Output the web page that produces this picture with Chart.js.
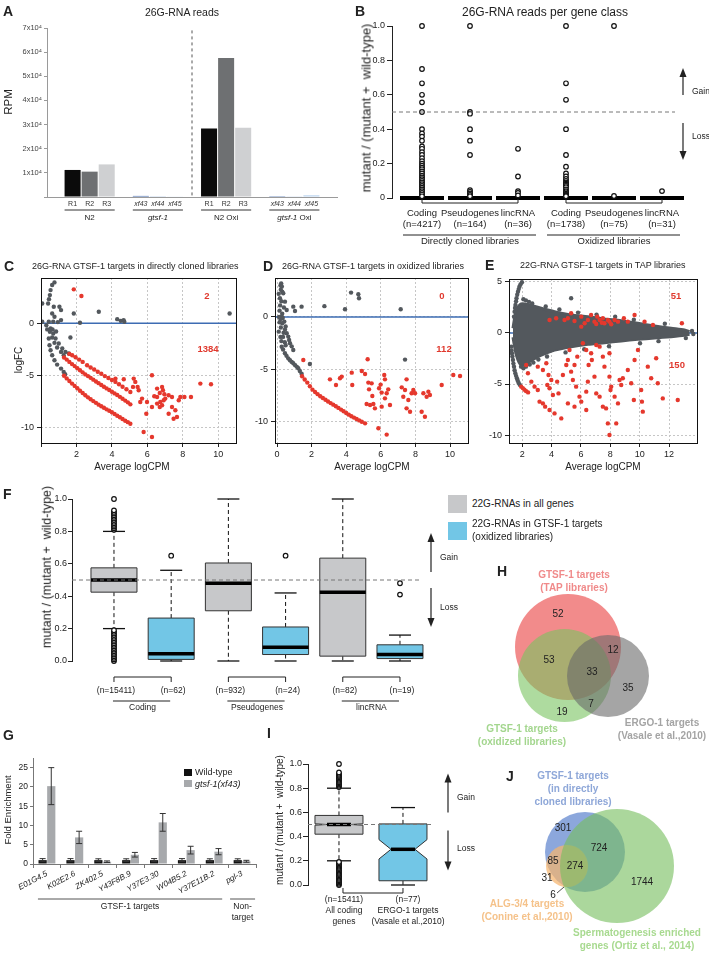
<!DOCTYPE html>
<html lang="en">
<head>
<meta charset="UTF-8" />
<meta name="viewport" content="width=device-width, initial-scale=1.0" />
<title>GTSF-1 small RNA figure</title>
<script src="https://cdn.jsdelivr.net/npm/chart.js"></script>
<style>
  body { margin: 0; width: 709px; height: 954px; position: relative; overflow: hidden; background: #fff;
         font-family: "Liberation Sans", Arial, Helvetica, sans-serif; color: #222; }
  canvas { position: absolute; }
  .t { position: absolute; white-space: nowrap; line-height: 1; transform: translate(-50%, -50%); }
  .sq { position: absolute; }
</style>
</head>
<body>
<script>
// ---------------- data ----------------
// A: 26G-RNA reads (RPM)
const aReplicates = ['R1', 'R2', 'R3'];
const aMutants = ['xf43', 'xf44', 'xf45'];
const aN2 = [11200, 10500, 13500];
const aGtsf1 = [450, 300, 250];
const aN2Oxi = [28400, 57600, 28700];
const aGtsf1Oxi = [350, 150, 700];

// B: 26G-RNA reads per gene class
const bClasses = ['Coding', 'Pseudogenes', 'lincRNA', 'Coding', 'Pseudogenes', 'lincRNA'];
const bCounts = [4217, 164, 36, 1738, 75, 31];
const bLibraries = ['Directly cloned libraries', 'Oxidized libraries'];
const bMedians = [0, 0, 0, 0, 0, 0];
const bOutliers = [
  [1.0, 0.75, 0.667, 0.6, 0.556, 0.5, 0.4, 0.375, 0.357, 0.333, 0.3, 0.286, 0.267, 0.25, 0.231, 0.214, 0.2, 0.188,
   0.176, 0.167, 0.154, 0.143, 0.13, 0.12, 0.11, 0.1, 0.09, 0.08, 0.07, 0.06, 0.05, 0.04, 0.03, 0.02, 0.01],
  [1.0, 0.5, 0.49, 0.4, 0.333, 0.25, 0.045, 0.036, 0.027, 0.018, 0.01],
  [0.286, 0.125, 0.04, 0.03, 0.015],
  [1.0, 0.667, 0.571, 0.4, 0.25, 0.182, 0.143, 0.125, 0.111, 0.1, 0.091, 0.083, 0.077, 0.071, 0.063, 0.05, 0.04,
   0.033, 0.025, 0.02, 0.015, 0.01],
  [1.0, 0.012],
  [0.04]
];

// C: 26G-RNA GTSF-1 targets, directly cloned (average logCPM, logFC)
const cCounts = [2, 1384];
const cGray = [[0.76,3.91],[0.63,3.66],[0.54,3.17],[0.5,2.69],[0.45,2.3],[0.4,1.89],[0.07,1.89],[0.72,1.57],[1.04,1.57],
  [1.13,1.25],[0.63,0.93],[0.76,0.61],[1.13,0.29],[1.85,0.93],[2.2,0.03],[3.26,1.09],[4.3,0.38],[4.5,0.22],[4.7,0.13],
  [4.66,0.29],[10.64,0.93],[0.07,0.13],[0.44,0.13],[0.69,0.13],[1.66,-1.38],[0.54,-0.51],[0.69,-0.99],[0.82,-1.47],
  [1.0,-1.96],[1.2,-2.44],[1.38,-2.76],[1.57,-2.92],[0.5,-0.83],[0.63,-1.38],[0.76,-1.89],[0.91,-2.34],[1.13,-2.76],
  [1.28,-3.08],[0.44,-1.47],[0.48,-2.12],[0.54,-2.6],[0.63,-3.08],[0.76,-3.56],[0.91,-3.98],[1.13,-4.36],[1.28,-4.68],
  [1.36,-4.9],[0.35,-0.6],[0.65,-0.6],[0.85,-0.8],[0.3,-0.2],[0.95,0.1]];
const cRedUpper = [[1.85,3.24],[2.28,2.6],[1.6,-2.95],[1.76,-3.08],[1.95,-3.28],[2.15,-3.5],[2.35,-3.72],[2.6,-4.04],
  [2.8,-4.25],[3.0,-4.45],[3.2,-4.66],[3.4,-4.86],[3.6,-5.08],[3.8,-5.27],[4.0,-5.45],[4.2,-5.64],[4.4,-5.86],[4.6,-6.1],
  [4.82,-6.35],[5.04,-6.6]];
const cRedMiddle = [[1.3,-3.3],[1.45,-3.5],[1.6,-3.72],[1.75,-3.93],[1.9,-4.12],[2.05,-4.32],[2.2,-4.52],[2.35,-4.72],
  [2.5,-4.92],[2.65,-5.08],[2.8,-5.25],[2.95,-5.42],[3.1,-5.6],[3.25,-5.76],[3.4,-5.93],[3.55,-6.1],[3.7,-6.26],
  [3.85,-6.42],[4.0,-6.58],[4.15,-6.74],[4.3,-6.9],[4.45,-7.07],[4.6,-7.25],[4.75,-7.43],[4.9,-7.6],[5.04,-7.79]];
const cRedLower = [[1.3,-5.05],[1.45,-5.3],[1.6,-5.55],[1.75,-5.8],[1.9,-6.02],[2.05,-6.25],[2.2,-6.48],[2.35,-6.7],
  [2.5,-6.92],[2.65,-7.12],[2.8,-7.3],[2.95,-7.48],[3.1,-7.65],[3.25,-7.82],[3.4,-7.98],[3.55,-8.12],[3.7,-8.27],
  [3.85,-8.4],[4.0,-8.55],[4.15,-8.72],[4.3,-8.88],[4.45,-9.03],[4.6,-9.2],[4.75,-9.36],[4.9,-9.5],[5.04,-9.65]];
const cRedScatter = [[4.2,-5.32],[4.67,-5.38],[5.23,-5.32],[5.19,-6.12],[5.32,-5.64],[5.45,-6.12],[5.51,-6.44],
  [5.7,-7.24],[5.6,-7.56],[5.98,-7.56],[5.94,-8.69],[5.79,-10.45],[6.26,-5.0],[6.26,-10.93],[6.55,-7.08],[6.55,-6.28],
  [6.7,-6.7],[6.83,-6.12],[6.88,-6.44],[6.96,-6.83],[7.01,-7.24],[6.73,-7.56],[6.7,-8.04],[6.55,-7.72],[6.92,-7.4],
  [6.83,-7.88],[7.2,-6.92],[7.39,-7.08],[7.39,-8.04],[7.48,-9.17],[7.58,-8.36],[7.67,-9.0],[7.77,-7.4],[7.86,-7.08],
  [8.09,-7.08],[8.46,-7.08],[8.99,-5.8],[9.59,-5.87],[6.26,-8.04],[6.39,-7.02],[7.2,-8.69]];

// D: 26G-RNA GTSF-1 targets, oxidized
const dCounts = [0, 112];
const dGray = [[0.2,3.0],[0.24,3.2],[0.28,2.9],[0.22,2.6],[0.3,2.4],[0.36,2.26],[0.1,2.2],[0.17,1.79],[0.25,1.5],
  [0.46,1.46],[0.18,1.1],[0.4,0.9],[0.15,0.6],[0.56,0.67],[0.3,0.3],[0.27,0.03],[0.12,0.0],[0.33,-0.1],[0.2,-0.2],
  [0.15,-0.5],[0.42,-0.44],[0.3,-0.6],[0.5,-0.9],[0.22,-1.0],[0.46,-1.2],[0.1,-1.4],[0.38,-1.5],[0.56,-1.55],
  [0.65,-1.87],[0.2,-1.9],[0.35,-1.9],[0.7,-2.2],[0.25,-2.3],[0.45,-2.4],[0.75,-2.5],[0.5,-2.7],[0.85,-2.8],
  [0.94,-3.14],[0.27,-2.83],[0.35,-3.1],[0.46,-3.46],[0.55,-3.7],[0.65,-3.94],[0.75,-4.12],[0.85,-4.28],[0.94,-4.41],
  [1.05,-4.6],[1.15,-4.75],[1.23,-4.89],[1.32,-5.15],[1.42,-5.4],[0.94,0.98],[1.04,0.57],[1.42,0.98],[2.74,1.03],
  [3.93,0.73],[4.28,2.32],[4.7,2.16],[4.74,1.78],[7.15,0.73],[7.4,-4.06],[1.9,-4.48]];
const dRedCurve = [[1.45,-5.65],[1.6,-5.95],[1.75,-6.25],[1.9,-6.6],[2.05,-6.92],[2.2,-7.15],[2.35,-7.35],[2.5,-7.55],
  [2.65,-7.72],[2.8,-7.88],[2.95,-8.05],[3.1,-8.2],[3.25,-8.35],[3.4,-8.5],[3.55,-8.66],[3.7,-8.82],[3.85,-8.98],
  [4.0,-9.15],[4.15,-9.3],[4.3,-9.45],[4.45,-9.58],[4.6,-9.72],[4.75,-9.85],[4.9,-9.98],[5.09,-10.13]];
const dRedScatter = [[1.52,-4.1],[3.06,-5.94],[3.41,-6.48],[3.64,-5.84],[3.74,-5.68],[4.32,-5.3],[4.35,-6.48],
  [4.9,-5.14],[5.09,-5.43],[5.24,-4.03],[5.28,-6.25],[5.32,-6.89],[5.47,-6.32],[5.51,-7.52],[5.18,-8.29],[5.38,-8.38],
  [5.57,-8.29],[5.66,-8.7],[5.86,-10.6],[5.9,-6.79],[5.99,-6.44],[6.05,-7.2],[6.2,-5.52],[6.24,-5.94],[6.24,-7.75],
  [6.34,-7.27],[6.43,-6.89],[6.53,-8.38],[6.34,-11.2],[7.21,-6.7],[7.3,-7.59],[7.4,-6.95],[7.49,-5.94],[7.59,-7.9],
  [7.49,-8.7],[7.69,-9.02],[7.78,-7.27],[7.88,-6.95],[7.98,-7.27],[8.36,-9.02],[8.55,-9.5],[8.46,-7.27],[8.65,-7.59],
  [8.75,-7.11],[8.84,-7.43],[9.52,-6.48],[10.19,-5.52],[10.58,-5.62],[6.05,-8.54]];

// E: 22G-RNA GTSF-1 targets, TAP libraries
const eCounts = [51, 150];
const eCloudUpper = [[1.37,0.46],[1.6,2.25],[1.93,2.84],[2.5,2.75],[3.06,2.52],[4.2,2.09],[5.33,1.76],[6.47,1.6],
  [7.6,1.37],[8.74,1.21],[9.87,0.95],[11.01,0.69],[12.14,0.46],[13.05,0.29],[13.39,0.13]];
const eCloudLower = [[1.37,-0.42],[1.6,-2.16],[1.93,-3.14],[2.5,-2.81],[3.06,-2.32],[4.2,-1.67],[5.33,-1.34],
  [6.47,-1.11],[7.6,-0.95],[8.74,-0.78],[9.87,-0.62],[11.01,-0.49],[12.14,-0.36],[13.05,-0.23],[13.39,-0.13]];
const eGray = [[1.44,1.6],[1.48,2.09],[1.51,2.45],[1.54,2.75],[1.58,3.1],[1.61,3.4],[1.66,3.75],[1.71,4.05],
  [1.76,4.3],[1.81,4.54],[1.88,4.75],[1.98,4.97],[2.08,3.3],[2.25,3.2],[2.46,3.05],[2.68,2.9],[5.33,3.4],[1.25,-1.34],
  [1.27,-1.7],[1.3,-1.99],[1.33,-2.3],[1.37,-2.65],[1.4,-3.0],[1.44,-3.3],[1.48,-3.65],[1.53,-3.95],[1.58,-4.2],
  [1.64,-4.44],[1.69,-4.65],[1.75,-4.87],[1.83,-5.07],[1.92,-3.3],[2.08,-3.45],[2.25,-3.3],[2.51,-3.1],[2.76,-2.9],
  [3.1,-2.6],[3.6,2.6],[4.53,2.3],[5.8,2.0],[7.06,1.8],[8.33,1.6],[9.6,1.3],[11.71,0.9],[3.69,-2.3],[4.95,-1.9],
  [6.22,-1.6],[7.91,-1.3],[10.02,-1.0],[11.28,-0.8],[13.14,-0.5],[13.56,0.2],[13.65,-0.1]];
const eRedUp = [[4.88,1.27],[5.11,1.44],[5.33,1.93],[5.56,1.18],[6.02,1.6],[6.47,1.27],[6.69,1.76],[6.92,1.11],
  [7.11,1.6],[7.27,1.27],[7.42,1.01],[7.49,1.44],[7.6,0.95],[7.83,1.27],[7.94,1.11],[8.06,0.85],[8.29,1.27],
  [8.52,1.11],[8.92,1.44],[9.19,1.11],[9.65,1.76],[10.33,1.11],[10.9,0.78],[12.87,0.95],[6.02,0.62],[6.25,0.95],
  [7.04,0.88],[4.31,1.44],[3.86,1.27]];
const eRedDown = [[1.93,-5.26],[2.04,-5.4],[2.15,-5.55],[2.27,-5.7],[2.4,-5.82],[2.27,-3.14],[2.39,-3.95],
  [2.62,-4.77],[2.84,-5.26],[3.06,-5.59],[3.18,-6.73],[3.41,-6.9],[3.56,-7.22],[3.86,-7.55],[4.2,-7.88],[4.66,-8.37],
  [3.06,-3.3],[3.41,-3.63],[3.64,-2.97],[3.79,-4.12],[3.98,-4.61],[3.71,-5.1],[3.86,-5.42],[4.09,-6.08],[4.38,-4.77],
  [4.47,-5.92],[4.77,-4.12],[5.0,-3.14],[5.11,-2.65],[5.22,-1.67],[5.33,-3.79],[5.56,-3.14],[5.75,-2.32],[5.45,-4.61],
  [5.67,-5.26],[5.9,-6.24],[6.02,-6.73],[6.36,-7.55],[5.56,-7.22],[5.11,-6.9],[6.47,-4.77],[6.52,-3.14],[6.69,-1.99],
  [6.74,-2.65],[6.92,-4.28],[7.27,-1.34],[7.49,-2.32],[7.6,-3.3],[7.94,-4.28],[8.06,-5.26],[8.29,-6.24],[8.52,-6.9],
  [7.94,-1.99],[8.01,-5.59],[7.83,-8.86],[7.94,-10.0],[8.4,-8.86],[8.63,-4.61],[8.74,-5.1],[8.85,-4.44],
  [9.19,-3.63],[9.42,-4.93],[9.6,-6.57],[9.65,-2.65],[9.88,-1.67],[10.1,-5.59],[10.15,-6.73],[10.21,-7.71],
  [10.55,-3.3],[10.78,-4.44],[11.12,-2.48],[11.23,-4.93],[11.57,-6.41],[12.59,-6.57],[7.04,-5.92],[7.27,-6.24],
  [7.49,-7.22],[7.71,-7.39],[6.36,-5.75],[6.13,-1.01],[6.36,-1.67],[7.04,-1.18]];

// F: 22G-RNAs per gene class
const fGroups = ['Coding', 'Pseudogenes', 'lincRNA'];
const fCounts = [15411, 62, 932, 24, 82, 19];
const fLow = [0.2, 0.0, 0.0, 0.0, 0.0, 0.0];
const fQ1 = [0.425, 0.01, 0.31, 0.04, 0.03, 0.015];
const fMedian = [0.5, 0.045, 0.48, 0.085, 0.425, 0.04];
const fQ3 = [0.575, 0.265, 0.605, 0.21, 0.635, 0.1];
const fHigh = [0.8, 0.56, 1.0, 0.42, 1.0, 0.16];
const allCodingOutliers = [0, 0.01, 0.02, 0.03, 0.04, 0.05, 0.06, 0.07, 0.08, 0.09, 0.1, 0.11, 0.12, 0.13, 0.14,
  0.15, 0.16, 0.17, 0.18, 0.19, 0.81, 0.82, 0.83, 0.84, 0.85, 0.86, 0.87, 0.88, 0.89, 0.9, 0.91, 0.92, 0.93, 1.0];
const fOutliers = [allCodingOutliers, [0.65], [], [0.65], [], [0.41, 0.48]];

// G: RT-qPCR fold enrichment
const gGenes = ['E01G4.5', 'K02E2.6', 'ZK402.5', 'Y43F8B.9', 'Y37E3.30', 'W04B5.2', 'Y37E11B.2', 'pgl-3'];
const gWildType = [1, 1, 1, 1, 1, 1, 1, 1];
const gWildTypeSd = [0.4, 0.4, 0.35, 0.35, 0.4, 0.4, 0.35, 0.35];
const gMutant = [20.2, 6.9, 0.6, 2.4, 10.8, 3.6, 3.2, 0.7];
const gMutantSd = [4.8, 1.6, 0.2, 0.6, 2.3, 1.0, 0.8, 0.25];

// H: Venn of GTSF-1 / ERGO-1 targets
const hCounts = [52, 53, 12, 33, 35, 19, 7];

// I: ERGO-1 targets
const iCounts = [15411, 77];
const iGroups = [['All coding', 'genes'], ['ERGO-1 targets', '(Vasale et al.,2010)']];
const iLow = [0.2, 0.0];
const iQ1 = [0.42, 0.035];
const iMedian = [0.5, 0.295];
const iQ3 = [0.575, 0.505];
const iHigh = [0.8, 0.64];
const iNotchLo = [0.494, 0.215];
const iNotchHi = [0.506, 0.375];
const iOutliers = [allCodingOutliers, []];

// J: Venn with ALG-3/4 targets and spermatogenesis genes
const jCounts = [301, 724, 85, 274, 31, 6, 1744];

// ---------------- helpers ----------------
const FONT = '"Liberation Sans", Arial, Helvetica, sans-serif';
Chart.defaults.font.family = FONT;
Chart.defaults.color = '#222';

const pairs = a => a.map(p => ({x: p[0], y: p[1]}));
const pointsOf = groups => groups.flatMap((vals, i) => vals.map(v => ({x: i, y: v})));

function canvasAt(L, T, W, H) {
  const cv = document.createElement('canvas');
  cv.width = W; cv.height = H;
  cv.style.left = L + 'px'; cv.style.top = T + 'px';
  cv.style.width = W + 'px'; cv.style.height = H + 'px';
  document.body.appendChild(cv);
  return cv;
}

// box = canvas rect, area = plot rect, both in page pixels
function chartAt(box, area, cfg) {
  const [L, T, W, H] = box, [x0, y0, x1, y1] = area;
  const o = cfg.options = cfg.options || {};
  o.responsive = false; o.animation = false; o.events = [];
  o.layout = {autoPadding: false, padding: {left: 0, top: y0 - T, right: L + W - x1, bottom: 0}};
  o.plugins = {legend: {display: false}, tooltip: {enabled: false}};
  o.scales.x.afterFit = s => { s.height = T + H - y1; s.paddingLeft = s.paddingRight = 0; };
  o.scales.y.afterFit = s => { s.width = x0 - L; s.paddingTop = s.paddingBottom = 0; };
  return new Chart(canvasAt(L, T, W, H), cfg);
}

function seg(ctx, x1, y1, x2, y2, color, width, dash) {
  ctx.save();
  ctx.strokeStyle = color || '#222'; ctx.lineWidth = width || 1; ctx.setLineDash(dash || []);
  ctx.beginPath(); ctx.moveTo(x1, y1); ctx.lineTo(x2, y2); ctx.stroke();
  ctx.restore();
}

function label(ctx, s, x, y, size, o) {
  o = o || {};
  ctx.save();
  ctx.font = (o.italic ? 'italic ' : '') + (o.bold ? 'bold ' : '') + size + 'px ' + FONT;
  ctx.fillStyle = o.color || '#222';
  ctx.textAlign = o.align || 'center';
  ctx.textBaseline = 'middle';
  ctx.fillText(s, x, y);
  ctx.restore();
}

function mixed(ctx, parts, cx, y, size) {
  ctx.save();
  ctx.textBaseline = 'middle'; ctx.textAlign = 'left'; ctx.fillStyle = '#222';
  const fonts = parts.map(p => (p[1] ? 'italic ' : '') + size + 'px ' + FONT);
  let w = 0;
  parts.forEach((p, k) => { ctx.font = fonts[k]; w += ctx.measureText(p[0]).width; });
  let xx = cx - w / 2;
  parts.forEach((p, k) => { ctx.font = fonts[k]; ctx.fillText(p[0], xx, y); xx += ctx.measureText(p[0]).width; });
  ctx.restore();
}

function arrow(ctx, x, yTail, yHead) {
  const d = Math.sign(yHead - yTail);
  seg(ctx, x, yTail, x, yHead - d * 6, '#222', 1.2);
  ctx.save();
  ctx.fillStyle = '#222';
  ctx.beginPath();
  ctx.moveTo(x, yHead); ctx.lineTo(x - 3.5, yHead - d * 9); ctx.lineTo(x + 3.5, yHead - d * 9);
  ctx.closePath(); ctx.fill();
  ctx.restore();
}

function gainLoss(ctx, x, y5, up, down, gy, ly, tx) {
  arrow(ctx, x, y5 + up[0], y5 + up[1]);
  arrow(ctx, x, y5 + down[0], y5 + down[1]);
  label(ctx, 'Gain', tx, y5 + gy, 8.5, {align: 'left'});
  label(ctx, 'Loss', tx, y5 + ly, 8.5, {align: 'left'});
}

function drawBoxes(chart, st, o) {
  const {ctx, scales: {x, y}} = chart;
  const py = v => y.getPixelForValue(v);
  st.med.forEach((m, i) => {
    const cx = x.getPixelForValue(i), hw = o.half;
    const q1 = py(st.q1[i]), q3 = py(st.q3[i]), md = py(m);
    if (st.hi[i] > st.q3[i]) {
      seg(ctx, cx, q3, cx, py(st.hi[i]), '#111', 1, [4, 3]);
      seg(ctx, cx - o.cap, py(st.hi[i]), cx + o.cap, py(st.hi[i]), '#111', 1.3);
    }
    if (st.lo[i] < st.q1[i]) {
      seg(ctx, cx, q1, cx, py(st.lo[i]), '#111', 1, [4, 3]);
      seg(ctx, cx - o.cap, py(st.lo[i]), cx + o.cap, py(st.lo[i]), '#111', 1.3);
    }
    let mw = hw;
    if (st.q3[i] > st.q1[i]) {
      ctx.save();
      ctx.beginPath();
      if (st.nlo) {
        const nl = py(st.nlo[i]), nh = py(st.nhi[i]);
        mw = hw * 0.5;
        ctx.moveTo(cx - hw, q3); ctx.lineTo(cx + hw, q3); ctx.lineTo(cx + hw, nh); ctx.lineTo(cx + mw, md);
        ctx.lineTo(cx + hw, nl); ctx.lineTo(cx + hw, q1); ctx.lineTo(cx - hw, q1); ctx.lineTo(cx - hw, nl);
        ctx.lineTo(cx - mw, md); ctx.lineTo(cx - hw, nh); ctx.closePath();
      } else {
        ctx.rect(cx - hw, q3, 2 * hw, q1 - q3);
      }
      ctx.fillStyle = st.colors[i]; ctx.fill();
      ctx.strokeStyle = '#333'; ctx.lineWidth = 1; ctx.stroke();
      ctx.restore();
    }
    seg(ctx, cx - mw, md, cx + mw, md, '#000', o.medWidth);
  });
}

const ring = {pointStyle: 'circle', pointRadius: 2.3, pointBorderWidth: 1.2, pointBorderColor: '#111',
  pointBackgroundColor: '#fff', clip: false};
const hiddenX = (min, max) => ({type: 'linear', min, max, ticks: {display: false},
  grid: {display: false, drawTicks: false}, border: {display: false}});
const fracY = (zeroLabel, size, tick, pad) => ({min: 0, max: 1,
  ticks: {stepSize: 0.2, padding: pad, font: {size}, color: '#222', callback: v => v === 0 ? zeroLabel : v.toFixed(1)},
  grid: {drawOnChartArea: false, tickLength: tick, color: '#222'}, border: {color: '#222'}});

function put(x, y, html, size, mode, extra) {
  const d = document.createElement('div');
  d.className = 't';
  d.innerHTML = html;
  d.style.left = x + 'px'; d.style.top = y + 'px'; d.style.fontSize = size + 'px';
  if (mode === 'l') d.style.transform = 'translate(0,-50%)';
  if (mode === 'v') d.style.transform = 'translate(-50%,-50%) rotate(-90deg)';
  if (extra) d.style.cssText += extra;
  document.body.appendChild(d);
}

// ---------------- A ----------------
const aLabels = ['', ...aReplicates, '', ...aMutants, '', ...aReplicates, '', ...aMutants, ''];
const aValues = [null, ...aN2, null, ...aGtsf1, null, ...aN2Oxi, null, ...aGtsf1Oxi, null];
const repColors = ['#0b0b0b', '#6e7072', '#cfd0d2'];
const mutColors = ['#3d64a8', '#86a9d8', '#b9d3ef'];
const aColors = [null, ...repColors, null, ...mutColors, null, ...repColors, null, ...mutColors, null];

chartAt([0, 0, 340, 235], [47, 28, 337, 197], {
  type: 'bar',
  data: {labels: aLabels, datasets: [{data: aValues, backgroundColor: aColors, barPercentage: 1, categoryPercentage: 0.94}]},
  options: {
    scales: {
      x: {grid: {display: false, drawTicks: false}, border: {color: '#9a9a9a'},
        ticks: {autoSkip: false, maxRotation: 0, padding: 3, color: '#333',
          font: c => ({size: 7, style: aMutants.includes(aLabels[c.index]) ? 'italic' : 'normal'})}},
      y: {min: 0, max: 70000, grid: {drawOnChartArea: false, tickLength: 3, color: '#9a9a9a'}, border: {color: '#9a9a9a'},
        ticks: {stepSize: 10000, font: {size: 7.5}, color: '#444', padding: 2,
          callback: v => v ? (v / 10000) + 'x10⁴' : ''}}
    }
  },
  plugins: [{id: 'aExtra', afterDraw(c) {
    const {ctx, chartArea: a, scales: {x, y}} = c;
    const xd = x.getPixelForValue(8);
    seg(ctx, xd, y.getPixelForValue(69000), xd, a.bottom, '#555', 1, [3, 3]);
    const groups = [[1, 3, [['N2', false]]], [5, 7, [['gtsf-1', true]]], [9, 11, [['N2 Oxi', false]]],
      [13, 15, [['gtsf-1', true], [' Oxi', false]]]];
    groups.forEach(g => {
      const x1 = x.getPixelForValue(g[0]) - 8, x2 = x.getPixelForValue(g[1]) + 8;
      seg(ctx, x1, a.bottom + 13, x2, a.bottom + 13, '#333', 1);
      mixed(ctx, g[2], (x1 + x2) / 2, a.bottom + 21, 8);
    });
  }}]
});

// ---------------- B ----------------
chartAt([340, 0, 369, 250], [392, 26, 686, 198], {
  type: 'scatter',
  data: {datasets: [{data: pointsOf(bOutliers), ...ring}]},
  options: {scales: {x: hiddenX(-0.625, 5.5), y: fracY('0', 9, 5, 2)}},
  plugins: [{id: 'bExtra',
    beforeDatasetsDraw: c => drawBoxes(c, {lo: bMedians, q1: bMedians, med: bMedians, q3: bMedians, hi: bMedians,
      colors: []}, {half: 22, cap: 10, medWidth: 4}),
    afterDraw(c) {
      const {ctx, chartArea: a, scales: {x, y}} = c;
      const y5 = y.getPixelForValue(0.5);
      seg(ctx, a.left, y5, a.right - 11, y5, '#777', 1, [4, 3]);
      gainLoss(ctx, a.right - 3, y5, [-17, -44], [11, 48], -20, 25, a.right + 6);
      bClasses.forEach((s, i) => {
        const cx = x.getPixelForValue(i);
        label(ctx, s, cx, a.bottom + 15, 9.5);
        label(ctx, '(n=' + bCounts[i] + ')', cx, a.bottom + 26, 9.5);
      });
      bLibraries.forEach((s, k) => {
        const x1 = x.getPixelForValue(3 * k), x2 = x.getPixelForValue(3 * k + 2);
        seg(ctx, x1, a.bottom + 5, x2, a.bottom + 5);
        seg(ctx, x1, a.bottom + 1, x1, a.bottom + 5);
        seg(ctx, x2, a.bottom + 1, x2, a.bottom + 5);
        seg(ctx, x1 - 19, a.bottom + 37, x2 + 18, a.bottom + 37);
        label(ctx, s, (x1 + x2) / 2, a.bottom + 43, 9.5);
      });
    }}]
});

// ---------------- C, D, E (MA plots) ----------------
function maChart(box, area, xr, yr, hideZero, datasets) {
  return chartAt(box, area, {
    type: 'scatter',
    data: {datasets},
    options: {scales: {
      x: {type: 'linear', min: xr[0], max: xr[1],
        ticks: {stepSize: 2, includeBounds: false, font: {size: 9}, padding: 2, color: '#222',
          callback: v => (hideZero && v === 0) ? '' : v},
        grid: {color: '#c6c6c6', tickColor: '#222', tickLength: 4, tickBorderDash: []},
        border: {display: false, dash: [2, 2]}},
      y: {min: yr[0], max: yr[1],
        ticks: {stepSize: 5, includeBounds: false, font: {size: 9}, padding: 3, color: '#222'},
        grid: {color: '#c6c6c6', tickColor: '#222', tickLength: 4, tickBorderDash: []},
        border: {display: false, dash: [2, 2]}}
    }},
    plugins: [{id: 'ma',
      beforeDatasetsDraw(c) {
        const {ctx, chartArea: a, scales: {y}} = c;
        seg(ctx, a.left, y.getPixelForValue(0), a.right, y.getPixelForValue(0), '#3d6cb3', 1.5);
      },
      afterDraw(c) {
        const {ctx, chartArea: a} = c;
        ctx.save(); ctx.strokeStyle = '#111'; ctx.lineWidth = 1;
        ctx.strokeRect(a.left + 0.5, a.top + 0.5, a.right - a.left, a.bottom - a.top);
        ctx.restore();
      }}]
  });
}
const dots = (arr, color, order) => ({data: pairs(arr), pointRadius: 2.2, pointBackgroundColor: color,
  pointBorderWidth: 0, order});
const GRAY = '#53585d', RED = '#e5382d';

maChart([0, 258, 240, 215], [41, 278, 236, 443], [0, 11], [-11.5, 4.33], true, [
  dots(cGray, GRAY, 2),
  dots([...cRedUpper, ...cRedMiddle, ...cRedLower, ...cRedScatter], RED, 1)
]);
maChart([240, 258, 233, 215], [275, 278, 468, 443], [-0.116, 11.04], [-12, 3.71], false, [
  dots(dGray, GRAY, 2),
  dots([...dRedCurve, ...dRedScatter], RED, 1)
]);
maChart([473, 258, 236, 215], [509, 279, 697, 443], [1.1, 13.9], [-10.78, 5.29], false, [
  {type: 'line', data: pairs(eCloudUpper), borderColor: GRAY, backgroundColor: GRAY, borderWidth: 3, pointRadius: 0,
    fill: '+1', tension: 0.25, order: 3},
  {type: 'line', data: pairs(eCloudLower), borderColor: GRAY, borderWidth: 3, pointRadius: 0, fill: false,
    tension: 0.25, order: 3},
  dots(eGray, GRAY, 2),
  dots([...eRedUp, ...eRedDown], RED, 1)
]);

// ---------------- F ----------------
const fColors = ['#c7c8ca', '#72c6e6', '#c7c8ca', '#72c6e6', '#c7c8ca', '#72c6e6'];
chartAt([0, 485, 470, 240], [72, 499, 420, 661], {
  type: 'scatter',
  data: {datasets: [{data: pointsOf(fOutliers), ...ring}]},
  options: {scales: {x: hiddenX(-0.734, 5.35), y: fracY('0.0', 9, 4, 1)}},
  plugins: [{id: 'fExtra',
    beforeDatasetsDraw: c => drawBoxes(c, {lo: fLow, q1: fQ1, med: fMedian, q3: fQ3, hi: fHigh, colors: fColors},
      {half: 23, cap: 11, medWidth: 3.5}),
    afterDraw(c) {
      const {ctx, chartArea: a, scales: {x, y}} = c;
      const y5 = y.getPixelForValue(0.5);
      seg(ctx, a.left, y5, a.right, y5, '#777', 1, [4, 3]);
      gainLoss(ctx, a.right + 11, y5, [-8, -47], [8, 47], -22, 28, a.right + 20);
      fCounts.forEach((n, i) => label(ctx, '(n=' + n + ')', x.getPixelForValue(i) + 2, a.bottom + 30, 8.5));
      fGroups.forEach((g, k) => {
        const x1 = x.getPixelForValue(2 * k), x2 = x.getPixelForValue(2 * k + 1);
        seg(ctx, x1, a.bottom + 16, x2, a.bottom + 16);
        seg(ctx, x1, a.bottom + 16, x1, a.bottom + 21);
        seg(ctx, x2, a.bottom + 16, x2, a.bottom + 21);
        seg(ctx, x1 - 1, a.bottom + 40, x2 - 1, a.bottom + 40);
        label(ctx, g, (x1 + x2) / 2, a.bottom + 47, 8.5);
      });
    }}]
});

// ---------------- G ----------------
chartAt([0, 745, 265, 209], [33, 758, 256, 864], {
  type: 'bar',
  data: {labels: gGenes, datasets: [
    {label: 'Wild-type', data: gWildType, backgroundColor: '#111'},
    {label: 'gtsf-1(xf43)', data: gMutant, backgroundColor: '#a7a9ac'}
  ]},
  options: {
    datasets: {bar: {categoryPercentage: 0.62, barPercentage: 0.95}},
    scales: {
      x: {ticks: {minRotation: 28, maxRotation: 28, autoSkip: false, padding: 1, color: '#222',
          font: {size: 8, style: 'italic'}},
        grid: {drawOnChartArea: false, tickLength: 4, color: '#777'}, border: {color: '#777'}},
      y: {min: 0, max: 27.5, ticks: {stepSize: 5, includeBounds: false, font: {size: 8.5}, padding: 2, color: '#222'},
        grid: {drawOnChartArea: false, tickLength: 3, color: '#777'}, border: {color: '#777'}}
    }
  },
  plugins: [{id: 'gExtra', afterDatasetsDraw(c) {
    const {ctx, chartArea: a, scales: {x, y}} = c;
    [gWildTypeSd, gMutantSd].forEach((sd, di) => {
      c.getDatasetMeta(di).data.forEach((bar, i) => {
        const v = c.data.datasets[di].data[i];
        const yt = y.getPixelForValue(v + sd[i]), yb = y.getPixelForValue(Math.max(0, v - sd[i]));
        seg(ctx, bar.x, yt, bar.x, yb, '#333', 1);
        seg(ctx, bar.x - 3, yt, bar.x + 3, yt, '#333', 1);
        seg(ctx, bar.x - 3, yb, bar.x + 3, yb, '#333', 1);
      });
    });
    const x1 = x.getPixelForValue(0) - 9, x2 = x.getPixelForValue(6) + 8;
    seg(ctx, x1, a.bottom + 35, x2, a.bottom + 35, '#555', 1);
    label(ctx, 'GTSF-1 targets', (x1 + x2) / 2, a.bottom + 43, 8.5);
    const n1 = x.getPixelForValue(7) - 12, n2 = x.getPixelForValue(7) + 13;
    seg(ctx, n1, a.bottom + 35, n2, a.bottom + 35, '#555', 1);
    label(ctx, 'Non-', (n1 + n2) / 2, a.bottom + 43, 8.5);
    label(ctx, 'target', (n1 + n2) / 2, a.bottom + 54, 8.5);
  }}]
});

// ---------------- I ----------------
chartAt([270, 740, 210, 214], [308, 764, 433, 885], {
  type: 'scatter',
  data: {datasets: [{data: pointsOf(iOutliers), ...ring}]},
  options: {scales: {x: hiddenX(-0.484, 1.469), y: fracY('0.0', 9, 5, 1)}},
  plugins: [{id: 'iExtra',
    beforeDatasetsDraw: c => drawBoxes(c, {lo: iLow, q1: iQ1, med: iMedian, q3: iQ3, hi: iHigh,
      nlo: iNotchLo, nhi: iNotchHi, colors: ['#c7c8ca', '#72c6e6']}, {half: 24, cap: 12, medWidth: 3.5}),
    afterDraw(c) {
      const {ctx, chartArea: a, scales: {x, y}} = c;
      const y5 = y.getPixelForValue(0.5);
      seg(ctx, a.left, y5, a.right, y5, '#777', 1, [4, 3]);
      gainLoss(ctx, a.right + 15, y5, [-12, -51], [6, 46], -27, 24, a.right + 24);
      const x1 = x.getPixelForValue(0) + 4, x2 = x.getPixelForValue(1);
      seg(ctx, x1, a.bottom + 8, x2, a.bottom + 8);
      seg(ctx, x1, a.bottom + 3, x1, a.bottom + 8);
      seg(ctx, x2, a.bottom + 3, x2, a.bottom + 8);
      iGroups.forEach((g, i) => {
        const cx = x.getPixelForValue(i) + 5;
        label(ctx, '(n=' + iCounts[i] + ')', cx, a.bottom + 15, 8.5);
        label(ctx, g[0], cx, a.bottom + 26, 8.5);
        label(ctx, g[1], cx, a.bottom + 37, 8.5);
      });
    }}]
});

// ---------------- H and J (Venn diagrams) ----------------
function venn(box, origin, circles, counts, countPos, titles, extra) {
  const [L, T, W, H] = box;
  new Chart(canvasAt(L, T, W, H), {
    type: 'scatter',
    data: {datasets: [{
      data: circles.map(c => ({x: c.x, y: c.y})),
      pointBackgroundColor: circles.map(c => c.color), pointBorderWidth: 0,
      pointRadius: ctx => {
        const s = ctx.chart.scales.x, c = circles[ctx.dataIndex];
        return s.getPixelForValue(c.x + c.r) - s.getPixelForValue(c.x);
      }
    }]},
    options: {
      responsive: false, animation: false, events: [], layout: {padding: 0},
      plugins: {legend: {display: false}, tooltip: {enabled: false}},
      scales: {x: {type: 'linear', display: false, min: origin[0], max: origin[0] + W},
               y: {type: 'linear', display: false, reverse: true, min: origin[1], max: origin[1] + H}}
    },
    plugins: [{id: 'vennText', afterDatasetsDraw(c) {
      const {ctx, scales: {x, y}} = c;
      counts.forEach((n, i) => label(ctx, String(n), x.getPixelForValue(countPos[i][0]),
        y.getPixelForValue(countPos[i][1]), 10));
      titles.forEach(t => t.lines.forEach((s, k) => label(ctx, s, x.getPixelForValue(t.x),
        y.getPixelForValue(t.y + k * 13), 10, {bold: true, color: t.color})));
      if (extra) extra(ctx, x, y);
    }}]
  });
}

venn([470, 560, 239, 195], [-98, -87], [
    {x: 0, y: 0, r: 53, color: 'rgba(238,100,100,0.75)'},
    {x: -3.5, y: 28.5, r: 46.5, color: 'rgba(120,195,95,0.6)'},
    {x: 40, y: 29, r: 41, color: 'rgba(105,105,105,0.6)'}
  ], hCounts,
  [[-10, -33], [-19, 13], [45, 3], [24, 25], [60, 41], [-6, 65], [23, 57]],
  [{x: 6, y: -72, lines: ['GTSF-1 targets', '(TAP libraries)'], color: '#f08a8a'},
   {x: -46, y: 82, lines: ['GTSF-1 targets', '(oxidized libraries)'], color: '#a3d68e'},
   {x: 94, y: 76, lines: ['ERGO-1 targets', '(Vasale et al.,2010)'], color: '#a4a4a4'}]);

venn([470, 765, 239, 189], [-115, -87], [
    {x: 0, y: 0, r: 40, color: 'rgba(115,148,212,0.82)'},
    {x: -18, y: 14, r: 21, color: 'rgba(245,180,110,0.72)'},
    {x: 32, y: 14, r: 57, color: 'rgba(120,190,95,0.62)'}
  ], jCounts,
  [[-22, -24], [14, -4], [-32, 9], [-10, 14], [-38, 26], [-32, 43], [57, 30]],
  [{x: -12, y: -76, lines: ['GTSF-1 targets', '(in directly', 'cloned libraries)'], color: '#8ea7d8'},
   {x: -58, y: 52, lines: ['ALG-3/4 targets', '(Conine et al.,2010)'], color: '#f5c28a'},
   {x: 52, y: 81, lines: ['Spermatogenesis enriched', 'genes (Ortiz et al., 2014)'], color: '#a8da90'}],
  (ctx, x, y) => seg(ctx, x.getPixelForValue(-28), y.getPixelForValue(41), x.getPixelForValue(-21),
    y.getPixelForValue(35), '#222', 0.8));

// ---------------- text: panel letters, titles, axis titles, legends ----------------
[['A', 3, 11], ['B', 355, 11], ['C', 4, 266], ['D', 263, 266], ['E', 485, 265], ['F', 3, 494],
 ['G', 3, 735], ['H', 497, 571], ['I', 267, 733], ['J', 506, 776]]
  .forEach(p => put(p[1], p[2], p[0], 14, 'l', 'font-weight:bold;'));

put(182, 12, '26G-RNA reads', 10.5);
put(545, 12, '26G-RNA reads per gene class', 12);
put(32, 266, '26G-RNA GTSF-1 targets in directly cloned libraries', 9, 'l');
put(282, 266, '26G-RNA GTSF-1 targets in oxidized libraries', 9, 'l');
put(520, 265, '22G-RNA GTSF-1 targets in TAP libraries', 9, 'l');

put(9, 102, 'RPM', 11.5, 'v');
put(366, 108, 'mutant / (mutant +&nbsp; wild-type)', 13, 'v');
put(19, 360, 'logFC', 10, 'v');
put(132, 467, 'Average logCPM', 10);
put(372, 467, 'Average logCPM', 10);
put(603, 467, 'Average logCPM', 10);
put(47, 567, 'mutant / (mutant +&nbsp; wild-type)', 12.5, 'v');
put(8, 810, 'Fold Enrichment', 9.5, 'v');
put(280, 820, 'mutant / (mutant +&nbsp; wild-type)', 10, 'v');

const redNum = 'font-weight:bold;color:#e0392e;';
put(207, 296, String(cCounts[0]), 9.5, null, redNum);
put(208, 349, String(cCounts[1]), 9.5, null, redNum);
put(442, 296, String(dCounts[0]), 9.5, null, redNum);
put(444, 349, String(dCounts[1]), 9.5, null, redNum);
put(676, 296, String(eCounts[0]), 9.5, null, redNum);
put(677, 365, String(eCounts[1]), 9.5, null, redNum);

function square(x, y, w, h, color) {
  const d = document.createElement('div');
  d.className = 'sq';
  d.style.cssText = `left:${x}px;top:${y}px;width:${w}px;height:${h}px;background:${color};`;
  document.body.appendChild(d);
}
square(448, 495, 19, 18, '#c7c8ca');
square(448, 522, 19, 18, '#72c6e6');
put(472, 504, '22G-RNAs in all genes', 10, 'l');
put(472, 524, '22G-RNAs in GTSF-1 targets', 10, 'l');
put(472, 537, '(oxidized libraries)', 10, 'l');

square(184, 769, 8, 7, '#111');
square(184, 780, 8, 7, '#a7a9ac');
put(195, 772, 'Wild-type', 9, 'l');
put(195, 784, 'gtsf-1(xf43)', 9, 'l', 'font-style:italic;');
</script>
</body>
</html>
